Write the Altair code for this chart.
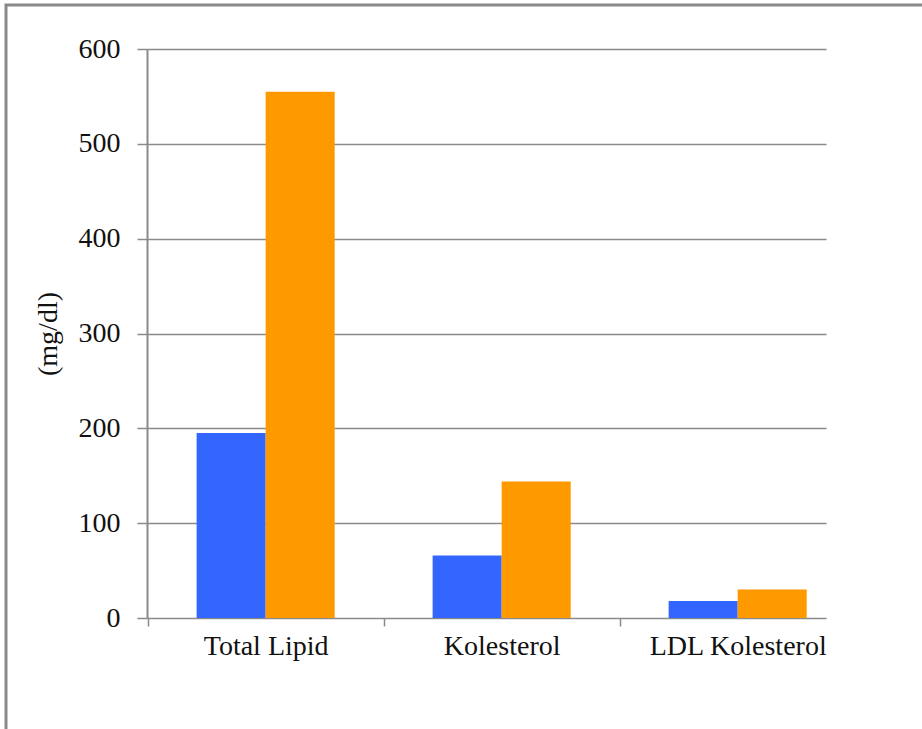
import altair as alt
import pandas as pd

# Serum lipid values (mg/dl) for two groups
categories = ["Total Lipid", "Kolesterol", "LDL Kolesterol"]
series = ["Grup 1", "Grup 2"]
values_group1 = [195, 66, 18]
values_group2 = [555, 144, 30]
y_ticks = [0, 100, 200, 300, 400, 500, 600]

colors = ["#3366FF", "#FF9900"]
font = "Liberation Serif"

rows = []
for cat, v1, v2 in zip(categories, values_group1, values_group2):
    rows.append({"kategori": cat, "grup": series[0], "nilai": v1})
    rows.append({"kategori": cat, "grup": series[1], "nilai": v2})
df = pd.DataFrame(rows)

plot_w, plot_h = 679, 569

bars = alt.Chart(df).mark_bar().encode(
    x=alt.X(
        "kategori:N",
        sort=categories,
        title=None,
        scale=alt.Scale(paddingInner=0.415, paddingOuter=0.146, align=0.72),
        axis=alt.Axis(
            domain=False,
            grid=False,
            ticks=True,
            labelAngle=0,
            labelFont=font,
            labelFontSize=28,
            labelColor="#111111",
            labelPadding=6,
            labelOffset=49,
            tickColor="#8a8a8a",
            tickWidth=1.5,
            tickSize=8,
            bandPosition=0,
            tickOffset=-49,
            tickExtra=False,
        ),
    ),
    xOffset=alt.XOffset("grup:N", sort=series, scale=alt.Scale(paddingInner=0, paddingOuter=0)),
    y=alt.Y(
        "nilai:Q",
        title="(mg/dl)",
        scale=alt.Scale(domain=[0, 600], nice=False),
        axis=alt.Axis(
            values=y_ticks,
            grid=True,
            gridColor="#8a8a8a",
            gridWidth=1.5,
            domainColor="#8a8a8a",
            domainWidth=2,
            tickColor="#8a8a8a",
            tickWidth=1.5,
            tickSize=10,
            labelFont=font,
            labelFontSize=28,
            labelColor="#111111",
            labelPadding=17,
            titleFont=font,
            titleFontSize=28,
            titleFontWeight="normal",
            titleColor="#111111",
            titlePadding=16,
        ),
    ),
    color=alt.Color("grup:N", sort=series, scale=alt.Scale(domain=series, range=colors), legend=None),
)

# Outer frame around the chart
frame = alt.Chart(pd.DataFrame({"f": [0]})).mark_rect(
    filled=False, stroke="#8a8a8a", strokeWidth=3
).encode(
    x=alt.value(-141), x2=alt.value(800), y=alt.value(-44), y2=alt.value(700)
)

chart = alt.layer(bars, frame).properties(
    width=plot_w,
    height=plot_h,
    autosize=alt.AutoSizeParams(type="none"),
    padding={"left": 147, "top": 49, "right": 96, "bottom": 111},
    background="white",
).configure_view(stroke=None)

chart.save("out.html", embed_options={"renderer": "svg", "actions": False})
